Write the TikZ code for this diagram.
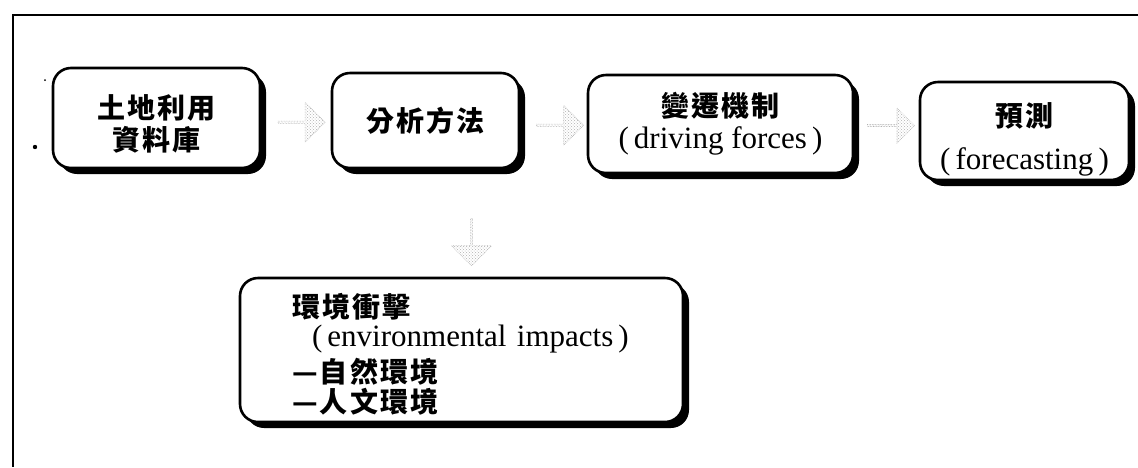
\documentclass[tikz,border=0pt]{standalone}
\usepackage{fontspec}
\setmainfont{Liberation Serif}
\newfontfamily\cjk{Noto Sans CJK TC}[LetterSpace=8]
\usetikzlibrary{shapes.arrows,shadows,calc,patterns}
\newcommand\zh[1]{{\cjk\bfseries\fontsize{28}{32}\selectfont #1}}
\begin{document}
\begin{tikzpicture}[x=1pt,y=-1pt,
  box/.style={draw=black, line width=2.6pt, fill=white, rounded corners=18pt,
    inner sep=0pt, align=center, font=\fontsize{31}{33}\selectfont,
    drop shadow={shadow xshift=6pt, shadow yshift=-6pt, fill=black, opacity=1}},
  blk/.style={single arrow, single arrow head extend=5pt, inner sep=0pt,
    minimum height=47pt, minimum width=40pt, pattern=crosshatch dots,
    pattern color=black!30, draw=black!30, densely dotted, line width=0.6pt},
]
\fill[white] (0,0) rectangle (1138,467);
\useasboundingbox (0,0) rectangle (1138,467);
% frame
\draw[line width=1.8pt] (1138,15) -- (13,15) -- (13,467);
\fill (35,147) circle (2.2);
\fill (45,80) circle (1);

% boxes
\node[box, minimum width=207pt, minimum height=100pt] (b1) at (156.5,118)
  {\rule{0pt}{35pt}\zh{土地利用}\\[-1pt]\zh{資料庫}};
\node[box, minimum width=187pt, minimum height=95pt] (b2) at (425.5,120.5)
  {\zh{分析方法}};
\node[box, minimum width=265pt, minimum height=98pt] (b3) at (720.5,124)
  {\zh{變遷機制}\\[-1pt](\,driving forces\,)};
\node[box, minimum width=209pt, minimum height=98pt] (b4) at (1024.5,131)
  {\rule{0pt}{40pt}\zh{預測}\\[10pt](\,forecasting\,)};
\node[box, minimum width=443pt, minimum height=144pt, inner xsep=52pt,
  text width=339pt, align=left] (b5) at (461.5,350)
  {\rule{0pt}{33pt}\zh{環境衝擊}\\[-4pt]
   \hspace*{20pt}(\,environmental impacts\,)\\[3pt]
   \zh{—自然環境}\\[-3pt]
   \zh{—人文環境}};

% block arrows
\node[blk] (a1) at ($($(b1.east)!0.5!(b2.west)$)+(5,3)$) {};
\node[blk] (a2) at ($($(b2.east)!0.5!(b3.west)$)+(6,3)$) {};
\node[blk, minimum width=35pt] (a3) at ($($(b3.east)!0.5!(b4.west)$)+(4,-2)$) {};
\node[blk, rotate=-90] (a4) at ($(b5.north)+(10,-35)$) {};
\end{tikzpicture}
\end{document}
